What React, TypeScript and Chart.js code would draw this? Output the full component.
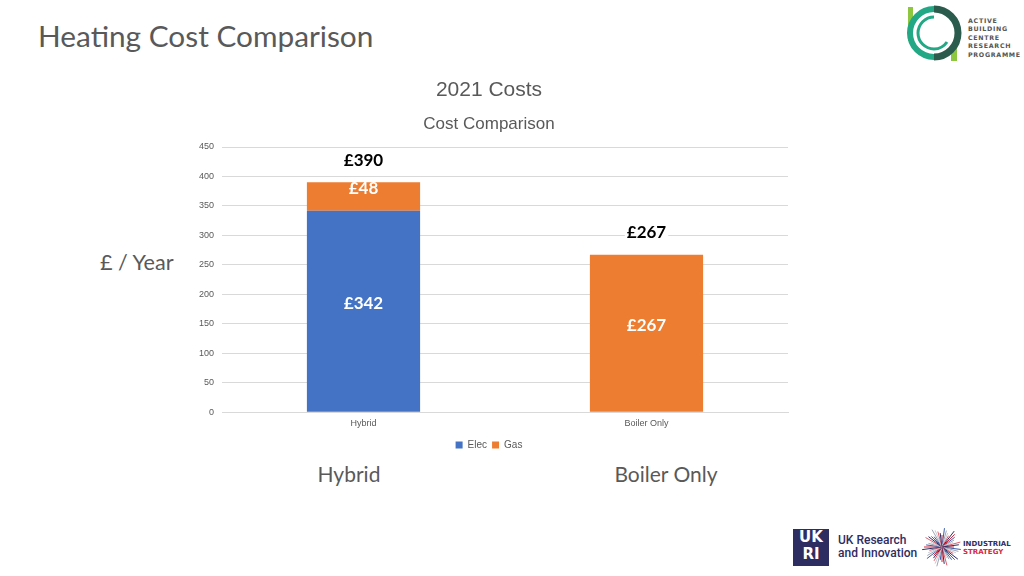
import React, { useEffect, useRef } from "react";
import { Chart, registerables } from "chart.js";

Chart.register(...registerables);

const categories = ["Hybrid", "Boiler Only"];
const elecValues = [342, 0];
const gasValues = [48, 267];
const totalValues = [390, 267];
const yTicksMax = 450;
const yTickStep = 50;

const BLUE = "#4472C4";
const ORANGE = "#ED7D31";
const GREY = "#595959";

const labelsPlugin = {
  id: "valueLabels",
  afterDatasetsDraw(chart: any) {
    const ctx = chart.ctx;
    ctx.save();
    ctx.textAlign = "center";
    ctx.textBaseline = "middle";
    ctx.font = "bold 17px Lato, 'Liberation Sans', sans-serif";
    chart.data.datasets.forEach((ds: any, di: number) => {
      const meta = chart.getDatasetMeta(di);
      meta.data.forEach((bar: any, i: number) => {
        const v = ds.data[i];
        if (!v) return;
        const props = bar.getProps(["x", "y", "base"], true);
        const cy = (props.y + props.base) / 2 - 8;
        ctx.fillStyle = "#FFFFFF";
        ctx.fillText("£" + v, props.x, cy);
      });
    });
    const yScale = chart.scales.y;
    const xScale = chart.scales.x;
    totalValues.forEach((t, i) => {
      const x = xScale.getPixelForValue(i);
      const y = yScale.getPixelForValue(t) - 22;
      const txt = "£" + t;
      const w = ctx.measureText(txt).width;
      ctx.fillStyle = "#FFFFFF";
      ctx.fillRect(x - w / 2 - 2, y - 9, w + 4, 18);
      ctx.fillStyle = "#000000";
      ctx.fillText(txt, x, y);
    });
    ctx.restore();
  },
};

function ChartBox() {
  const ref = useRef<HTMLCanvasElement | null>(null);
  useEffect(() => {
    if (!ref.current) return;
    const chart = new Chart(ref.current, {
      type: "bar",
      data: {
        labels: categories,
        datasets: [
          { label: "Elec", data: elecValues, backgroundColor: BLUE, barPercentage: 0.4, categoryPercentage: 1 },
          { label: "Gas", data: gasValues, backgroundColor: ORANGE, barPercentage: 0.4, categoryPercentage: 1 },
        ],
      },
      options: {
        animation: false,
        responsive: false,
        maintainAspectRatio: false,
        layout: { padding: { left: 10, right: 12, top: 0, bottom: 0 } },
        plugins: {
          title: {
            display: true,
            text: "2021 Costs",
            color: GREY,
            font: { size: 21, family: "'Liberation Sans', Arial, sans-serif", weight: "normal" },
            padding: { top: 8, bottom: 10.6 },
          },
          subtitle: {
            display: true,
            text: "Cost Comparison",
            color: GREY,
            font: { size: 17, family: "'Liberation Sans', Arial, sans-serif", weight: "normal" },
            padding: { top: 0, bottom: 12.8 },
          },
          legend: {
            position: "bottom",
            labels: {
              boxWidth: 7,
              boxHeight: 7,
              padding: 5,
              color: GREY,
              font: { size: 10, family: "'Liberation Sans', Arial, sans-serif" },
            },
          },
          tooltip: { enabled: false },
        },
        scales: {
          x: {
            stacked: true,
            grid: { display: false, drawTicks: false },
            border: { display: true, color: "#D9D9D9" },
            ticks: { color: GREY, padding: 6, font: { size: 9, family: "'Liberation Sans', Arial, sans-serif" } },
          },
          y: {
            stacked: true,
            min: 0,
            max: yTicksMax,
            afterFit: (s: any) => { s.width = 32; },
            grid: { color: "#D9D9D9", drawTicks: false },
            border: { display: false },
            ticks: { stepSize: yTickStep, color: GREY, padding: 8, font: { size: 9, family: "'Liberation Sans', Arial, sans-serif" } },
          },
        },
      },
      plugins: [labelsPlugin],
    });
    return () => chart.destroy();
  }, []);
  return (
    <canvas ref={ref} width={620} height={390} style={{ position: "absolute", left: 180, top: 70, width: 620, height: 390 }} />
  );
}

function AbcLogo() {
  return (
    <div style={{ position: "absolute", left: 905, top: 3, width: 119, height: 60 }}>
      <svg width={60} height={60} style={{ position: "absolute", left: 0, top: 0 }}>
        <rect x={3} y={4} width={5} height={34} fill="#8DC63F" />
        <rect x={46} y={42} width={6} height={16} fill="#8DC63F" />
        <path d="M29 6 A24 24 0 0 0 29 54" fill="none" stroke="#22A884" strokeWidth={6} />
        <path d="M29 6 A24 24 0 0 1 29 54" fill="none" stroke="#2B5B4C" strokeWidth={7} />
        <path d="M29 14 A16 16 0 0 0 29 46" fill="none" stroke="#22A884" strokeWidth={3} />
        <path d="M29 46 A16 16 0 0 0 42 39" fill="none" stroke="#22A884" strokeWidth={3} />
      </svg>
      <div style={{ position: "absolute", left: 63, top: 14, fontFamily: "'DejaVu Sans', sans-serif", fontWeight: "bold", fontSize: 6.3, lineHeight: "8.4px", letterSpacing: 0.7, color: "#555" }}>
        ACTIVE<br />BUILDING<br />CENTRE<br />RESEARCH<br />PROGRAMME
      </div>
    </div>
  );
}

function UkriLogo() {
  const rays: React.ReactNode[] = [];
  const cols = ["#D8283B", "#3C5DA8", "#9FA6B5", "#C7CCD6", "#E0606E", "#2E2D62"];
  for (let i = 0; i < 48; i++) {
    const a = (i / 48) * Math.PI * 2;
    const r = 12 + ((i * 7) % 9);
    rays.push(
      <line key={i} x1={20} y1={20} x2={20 + Math.cos(a) * r} y2={20 + Math.sin(a) * r} stroke={cols[i % cols.length]} strokeWidth={1} />
    );
  }
  return (
    <div style={{ position: "absolute", left: 793, top: 527, width: 231, height: 42 }}>
      <div style={{ position: "absolute", left: 0, top: 2, width: 36, height: 37, background: "#2E2D62", color: "#fff", fontFamily: "'DejaVu Sans', sans-serif", fontWeight: "bold", fontSize: 15, lineHeight: "17px", textAlign: "center" }}>
        UK<br />RI
      </div>
      <div style={{ position: "absolute", left: 45, top: 7, fontFamily: "Roboto, 'Open Sans', sans-serif", fontWeight: 500, fontSize: 12, lineHeight: "13px", color: "#2E2D62" }}>
        UK Research<br />and Innovation
      </div>
      <svg width={40} height={40} style={{ position: "absolute", left: 129, top: 0 }}>
        {rays}
      </svg>
      <div style={{ position: "absolute", left: 170, top: 13, fontFamily: "'DejaVu Sans', sans-serif", fontWeight: "bold", fontSize: 7, lineHeight: "8px", color: "#2E2D62" }}>
        INDUSTRIAL<br /><span style={{ color: "#D8283B" }}>STRATEGY</span>
      </div>
    </div>
  );
}

export default function App() {
  const lato = "Lato, 'Open Sans', sans-serif";
  return (
    <div style={{ position: "fixed", left: 0, top: 0, width: 1024, height: 576, background: "#fff", overflow: "hidden" }}>
      <div style={{ position: "absolute", left: 38, top: 18, fontFamily: lato, fontSize: 29.8, lineHeight: "36px", color: GREY, whiteSpace: "nowrap" }}>
        Heating Cost Comparison
      </div>
      <div style={{ position: "absolute", left: 100, top: 249, fontFamily: lato, fontSize: 21.6, lineHeight: "26px", color: GREY, whiteSpace: "nowrap" }}>
        £ / Year
      </div>
      <div style={{ position: "absolute", left: 249, width: 200, top: 461, textAlign: "center", fontFamily: lato, fontSize: 21, lineHeight: "26px", color: GREY }}>
        Hybrid
      </div>
      <div style={{ position: "absolute", left: 566, width: 200, top: 461, textAlign: "center", fontFamily: lato, fontSize: 21, lineHeight: "26px", color: GREY }}>
        Boiler Only
      </div>
      <ChartBox />
      <AbcLogo />
      <UkriLogo />
    </div>
  );
}
